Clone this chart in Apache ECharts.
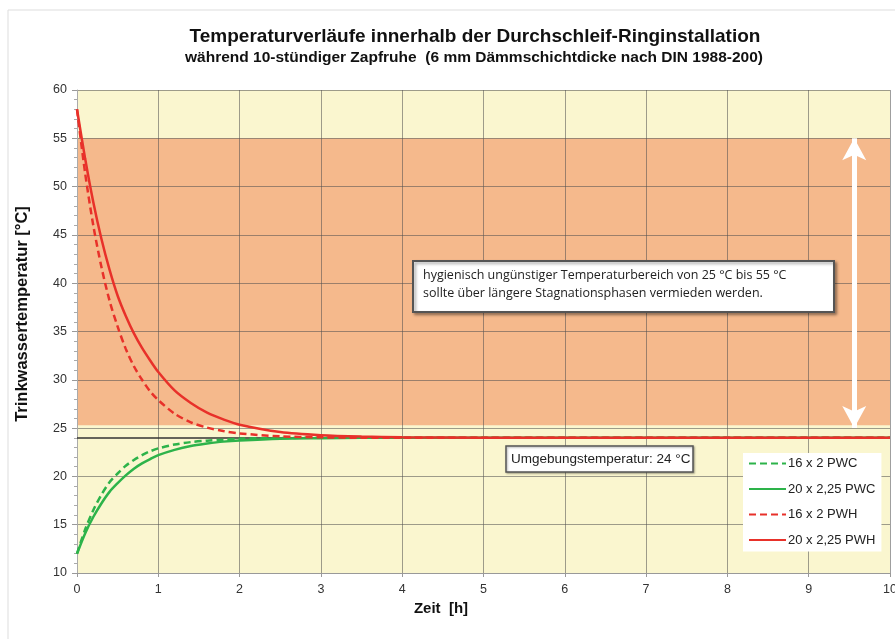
<!DOCTYPE html>
<html>
<head>
<meta charset="utf-8">
<script src="https://cdn.jsdelivr.net/npm/echarts@6/dist/echarts.min.js"></script>
<style>
html,body{margin:0;padding:0;background:#fff;}
#c{width:895px;height:639px;}
</style>
</head>
<body>
<div id="c"></div>
<script>
// time in hours
var times   = [0, 0.1, 0.2, 0.3, 0.4, 0.5, 0.6, 0.7, 0.8, 0.9, 1.0, 1.2, 1.4, 1.6, 1.8, 2.0, 2.5, 3.0, 3.5, 4, 5, 6, 7, 8, 9, 10];
var pwc16   = [12, 14.5, 16.5, 18.1, 19.4, 20.3, 21.1, 21.7, 22.2, 22.6, 22.9, 23.3, 23.55, 23.7, 23.8, 23.9, 23.97, 24.0, 24.0, 24, 24, 24, 24, 24, 24, 24];
var pwc20   = [12, 14.1, 15.8, 17.2, 18.4, 19.3, 20.1, 20.8, 21.35, 21.8, 22.2, 22.75, 23.15, 23.4, 23.6, 23.72, 23.9, 23.96, 24.0, 24, 24, 24, 24, 24, 24, 24];
var pwh16   = [58, 51.4, 46.0, 41.7, 38.2, 35.5, 33.2, 31.4, 30.0, 28.8, 27.9, 26.5, 25.6, 25.05, 24.7, 24.45, 24.15, 24.05, 24.0, 24, 24, 24, 24, 24, 24, 24];
var pwh20   = [58, 52.9, 48.4, 44.6, 41.4, 38.7, 36.6, 34.8, 33.3, 32.0, 30.8, 28.9, 27.6, 26.6, 25.9, 25.35, 24.6, 24.27, 24.12, 24.05, 24, 24, 24, 24, 24, 24];
var seriesNames = ['16 x 2 PWC', '20 x 2,25 PWC', '16 x 2 PWH', '20 x 2,25 PWH'];
var ambient = 24;
var badRange = [25.3, 55];
var arrowX = 9.56;
var arrowRange = [55, 25];

function pairs(v){ return times.map(function(t,i){ return [t, v[i]]; }); }

var GREEN = '#2db34a', RED = '#e8312a';
var F = '"Liberation Sans", Arial, sans-serif';

var chart = echarts.init(document.getElementById('c'), null, {renderer:'canvas'});
chart.setOption({
  animation:false,
  backgroundColor:'#fff',
  grid:{left:77, right:5, top:90, bottom:66, containLabel:false, outerBoundsMode:'none'},
  legend:{
    orient:'vertical', left:743, top:453, width:140,
    backgroundColor:'#fff', padding:[4,6,5,5], itemGap:12.5,
    itemWidth:37, itemHeight:12,
    itemStyle:{opacity:0},
    data:seriesNames,
    textStyle:{fontFamily:F, fontSize:13, color:'#222', padding:[0,0,0,-3]}
  },
  xAxis:{
    type:'value', min:0, max:10, interval:1, z:3,
    axisLine:{show:true, lineStyle:{color:'#999', width:1}},
    axisTick:{show:true, length:4, lineStyle:{color:'#999'}},
    axisLabel:{fontFamily:F, fontSize:12.5, color:'#333', margin:10},
    splitLine:{show:true, lineStyle:{color:'rgba(80,80,80,0.55)', width:1}}
  },
  yAxis:{
    type:'value', min:10, max:60, interval:5, z:3,
    axisLine:{show:true, lineStyle:{color:'#aaa', width:1}},
    axisTick:{show:true, length:5, lineStyle:{color:'#999'}},
    minorTick:{show:true, splitNumber:5, length:3, lineStyle:{color:'#aaa'}},
    axisLabel:{fontFamily:F, fontSize:12.5, color:'#333', margin:10},
    splitLine:{show:true, lineStyle:{color:'rgba(80,80,80,0.55)', width:1}}
  },
  series:[
    {
      name:'bg', type:'line', data:[], z:1, silent:true,
      markArea:{silent:true, itemStyle:{color:'#faf6cf'}, data:[
        [{coord:[0,10]},{coord:[10,60]}]
      ]}
    },
    {
      name:'bg2', type:'line', data:[], z:2, silent:true,
      markArea:{silent:true, itemStyle:{color:'#f5b98c'}, data:[
        [{coord:[0,badRange[0]]},{coord:[10,badRange[1]]}]
      ]}
    },
    {
      name:'refs', type:'line', data:[], z:4, silent:true,
      markLine:{silent:true, symbol:'none', label:{show:false},
        lineStyle:{color:'#333', width:1.5, type:'solid'},
        data:[{yAxis:ambient}]
      }
    },
    {
      name:'arrow', type:'line', data:[], z:4, silent:true,
      markLine:{silent:true, symbol:['arrow','arrow'], symbolSize:[18,22], label:{show:false},
        lineStyle:{color:'#fff', width:5, type:'solid'},
        data:[[{coord:[arrowX, arrowRange[0]]},{coord:[arrowX, arrowRange[1]]}]]
      }
    },
    {name:seriesNames[0], type:'line', data:pairs(pwc16), z:5, smooth:0.3, symbol:'none', showSymbol:false,
      itemStyle:{color:GREEN}, lineStyle:{color:GREEN, width:2.5, type:[7,4]}},
    {name:seriesNames[1], type:'line', data:pairs(pwc20), z:5, smooth:0.3, symbol:'none', showSymbol:false,
      itemStyle:{color:GREEN}, lineStyle:{color:GREEN, width:2.5}},
    {name:seriesNames[2], type:'line', data:pairs(pwh16), z:6, smooth:0.3, symbol:'none', showSymbol:false,
      itemStyle:{color:RED}, lineStyle:{color:RED, width:2.5, type:[7,4]}},
    {name:seriesNames[3], type:'line', data:pairs(pwh20), z:6, smooth:0.3, symbol:'none', showSymbol:false,
      itemStyle:{color:RED}, lineStyle:{color:RED, width:2.5}}
  ],
  graphic:{elements:[
    {type:'rect', z:100, silent:true, shape:{x:8, y:10, width:900, height:640}, style:{fill:'none', stroke:'#ddd', lineWidth:1}},
    {type:'text', z:100, silent:true, x:475, y:37, style:{text:'Temperaturverläufe innerhalb der Durchschleif-Ringinstallation', fontFamily:F, fontSize:19, fontWeight:'bold', fill:'#111', align:'center', verticalAlign:'middle'}},
    {type:'text', z:100, silent:true, x:474, y:58, style:{text:'während 10-stündiger Zapfruhe  (6 mm Dämmschichtdicke nach DIN 1988-200)', fontFamily:F, fontSize:15.5, fontWeight:'bold', fill:'#111', align:'center', verticalAlign:'middle'}},
    {type:'text', z:100, silent:true, x:22, y:314, rotation:Math.PI/2, style:{text:'Trinkwassertemperatur [°C]', fontFamily:F, fontSize:16.5, fontWeight:'bold', fill:'#111', align:'center', verticalAlign:'middle'}},
    {type:'text', z:100, silent:true, x:441, y:609, style:{text:'Zeit  [h]', fontFamily:F, fontSize:15, fontWeight:'bold', fill:'#111', align:'center', verticalAlign:'middle'}},
    {type:'rect', z:100, silent:true, shape:{x:413, y:261, width:421, height:51}, style:{fill:'#fff', stroke:'#555', lineWidth:2, shadowBlur:3, shadowOffsetX:2, shadowOffsetY:2, shadowColor:'rgba(0,0,0,0.35)'}},
    {type:'text', z:101, silent:true, x:423, y:284, style:{text:'hygienisch ungünstiger Temperaturbereich von 25 °C bis 55 °C\nsollte über längere Stagnationsphasen vermieden werden.', fontFamily:'"Open Sans", Lato, sans-serif', fontSize:12.5, lineHeight:18, fill:'#222', verticalAlign:'middle'}},
    {type:'rect', z:100, silent:true, shape:{x:506, y:446, width:187, height:26}, style:{fill:'#fff', stroke:'#555', lineWidth:1.5, shadowBlur:2, shadowOffsetX:1, shadowOffsetY:1, shadowColor:'rgba(0,0,0,0.3)'}},
    {type:'text', z:101, silent:true, x:511, y:459, style:{text:'Umgebungstemperatur: 24 °C', fontFamily:F, fontSize:13.5, fill:'#222', verticalAlign:'middle'}}
  ]}
});
</script>
</body>
</html>
